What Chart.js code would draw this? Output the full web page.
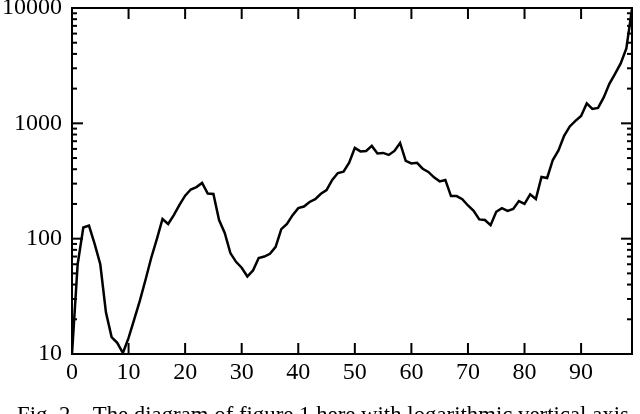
<!DOCTYPE html>
<html>
<head>
<meta charset="utf-8">
<script src="https://cdn.jsdelivr.net/npm/chart.js@4.4.1/dist/chart.umd.min.js"></script>
<style>
  html, body { margin: 0; padding: 0; background: #fff; overflow: hidden; }
  #wrap { position: relative; width: 640px; height: 414px; overflow: hidden; }
  #caption {
    position: absolute; left: 0; top: 404px; width: 646px; text-align: center;
    font: 22.8px "Liberation Serif", serif; line-height: 1; color: #000; white-space: pre;
  }
</style>
</head>
<body>
<div id="wrap">
  <canvas id="chart" width="640" height="414"></canvas>
  <div id="caption">Fig. 2.   The diagram of figure 1 here with logarithmic vertical axis</div>
</div>
<script>
// values, one per step 0..99
const seriesValues = [
  10, 60, 125, 130, 90, 60, 23, 14, 12.5, 10.2,
  13.8, 20, 29, 44, 68, 99, 148, 134, 160, 196,
  236, 267, 280, 304, 246, 244, 145, 112, 75, 63,
  56, 47, 53, 68, 70, 74, 85, 121, 134, 160,
  184, 190, 208, 220, 245, 264, 323, 371, 381, 455,
  612, 571, 576, 637, 548, 554, 532, 576, 676, 472,
  449, 455, 404, 379, 340, 314, 323, 234, 234, 220,
  194, 174, 147, 145, 131, 171, 184, 174, 181, 212,
  200, 242, 221, 343, 336, 481, 582, 778, 940, 1049,
  1159, 1488, 1334, 1360, 1678, 2198, 2681, 3308, 4467, 9800
];
const steps = seriesValues.map((v, i) => i);
const xTickValues = [0, 10, 20, 30, 40, 50, 60, 70, 80, 90];
const yTickValues = [10, 100, 1000, 10000];
const decades = [10, 100, 1000];

const labelFont = { family: "'Liberation Serif', serif", size: 24, lineHeight: 0.7 };

function line(ctx, x1, y1, x2, y2) {
  ctx.beginPath();
  ctx.moveTo(x1, y1);
  ctx.lineTo(x2, y2);
  ctx.stroke();
}

// box frame with inward tick marks on all four sides
const frameTicks = {
  id: "frameTicks",
  afterDraw(chart) {
    const { ctx, chartArea: a, scales } = chart;
    const x = scales.x;
    const y = scales.y;
    ctx.save();
    ctx.strokeStyle = "#000";
    ctx.lineWidth = 2;
    ctx.strokeRect(a.left, a.top, a.right - a.left, a.bottom - a.top);
    for (const v of xTickValues) {
      const px = x.getPixelForValue(v);
      line(ctx, px, a.bottom, px, a.bottom - 11);
      line(ctx, px, a.top, px, a.top + 11);
    }
    for (const d of decades) {
      for (let m = 2; m <= 9; m++) {
        const py = y.getPixelForValue(d * m);
        line(ctx, a.left, py, a.left + 5, py);
        line(ctx, a.right, py, a.right - 5, py);
      }
    }
    for (const v of yTickValues) {
      const py = y.getPixelForValue(v);
      line(ctx, a.left, py, a.left + 11, py);
      line(ctx, a.right, py, a.right - 11, py);
    }
    ctx.restore();
  }
};

new Chart(document.getElementById("chart"), {
  type: "line",
  data: {
    datasets: [
      {
        data: seriesValues.map((v, i) => ({ x: steps[i], y: v })),
        borderColor: "#000",
        borderWidth: 2.5,
        pointRadius: 0,
        tension: 0,
        fill: false
      }
    ]
  },
  options: {
    responsive: false,
    animation: false,
    layout: { padding: { top: 8, right: 8, left: 0, bottom: 0 } },
    plugins: { legend: { display: false }, tooltip: { enabled: false } },
    scales: {
      x: {
        type: "linear",
        min: 0,
        max: 99,
        grid: { display: false, drawTicks: false },
        border: { display: false },
        afterBuildTicks: (s) => { s.ticks = xTickValues.map((v) => ({ value: v })); },
        afterFit: (s) => { s.height = 60; s.paddingLeft = 0; s.paddingRight = 0; },
        ticks: { font: labelFont, color: "#000", padding: 10, maxRotation: 0, autoSkip: false }
      },
      y: {
        type: "logarithmic",
        min: 10,
        max: 10000,
        grid: { display: false, drawTicks: false },
        border: { display: false },
        afterBuildTicks: (s) => { s.ticks = yTickValues.map((v) => ({ value: v })); },
        afterFit: (s) => { s.width = 72; s.paddingTop = 0; s.paddingBottom = 0; },
        ticks: { font: labelFont, color: "#000", padding: 10, autoSkip: false, callback: (v) => String(v) }
      }
    }
  },
  plugins: [frameTicks]
});
</script>
</body>
</html>
